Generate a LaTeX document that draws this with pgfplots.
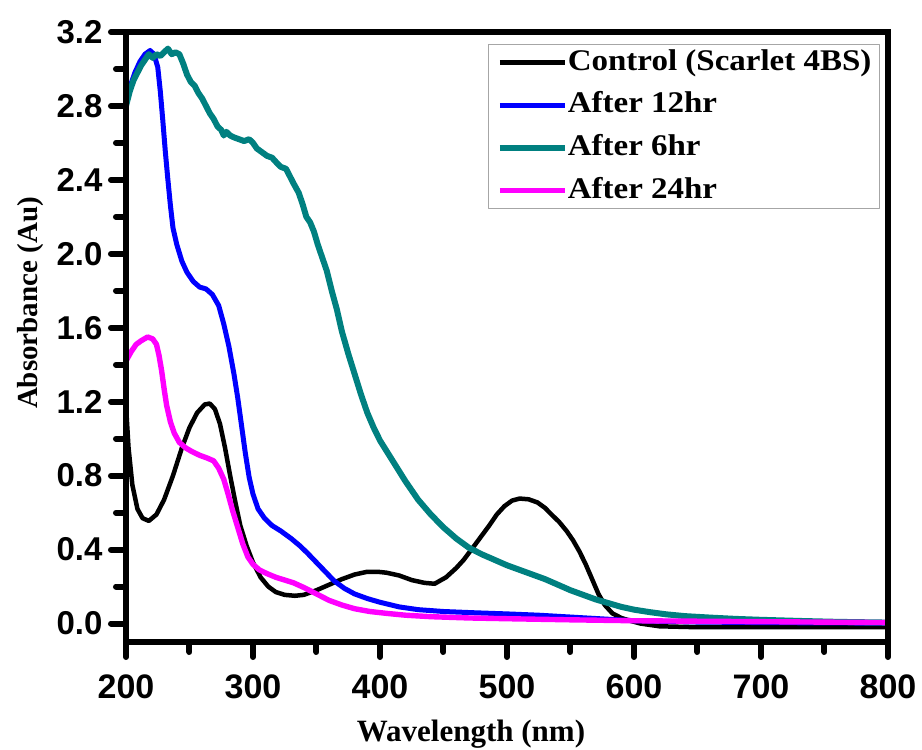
\documentclass[border=0pt]{standalone}
\usepackage{fontspec}
\setmainfont{Liberation Serif}
\newfontfamily\ticksans{Liberation Sans}
\usepackage{pgfplots}
\pgfplotsset{compat=1.18}
\definecolor{cteal}{RGB}{0,128,128}
\definecolor{cblue}{RGB}{0,0,255}
\definecolor{cmag}{RGB}{255,0,255}
\begin{document}
\begin{tikzpicture}
\useasboundingbox (-126pt,-108pt) rectangle (796pt,642pt);
\begin{axis}[
  name=ax,
  at={(0pt,0pt)}, anchor=south west,
  scale only axis, width=762pt, height=610pt,
  xmin=200, xmax=800, ymin=-0.1, ymax=3.2,
  xtick={200,300,...,800},
  ytick={0,0.4,...,3.2},
  minor x tick num=1, minor y tick num=1,
  xtick pos=bottom, ytick pos=left,
  tick align=outside,
  major tick length=15pt, minor tick length=10pt,
  tick style={line width=6pt, line cap=round, black},
  axis line style={line width=6.5pt},
  /pgf/number format/assume math mode=true,
  xticklabel={\ticksans\bfseries\pgfmathprintnumber{\tick}},
  yticklabel={\ticksans\bfseries\pgfmathprintnumber[fixed,fixed zerofill,precision=1]{\tick}},
  xticklabel style={font=\fontsize{34}{40}\selectfont, anchor=north, yshift=-14pt},
  yticklabel style={font=\fontsize{33}{40}\selectfont, anchor=east, xshift=-5pt},
  xlabel={\textbf{Wavelength (nm)}},
  ylabel={\textbf{Absorbance (Au)}},
  xlabel style={font=\fontsize{31}{36}\selectfont, at={(axis description cs:0.4528,-0.1508)}, anchor=center},
  ylabel style={font=\fontsize{29}{34}\selectfont, at={(axis description cs:-0.1247,0.5557)}, anchor=center},
  legend cell align=left,
  legend style={at={(rel axis cs:0.9895,0.9803)}, anchor=north east,
    draw=gray!70, line width=1pt, inner xsep=8pt, inner ysep=3.5pt,
    font=\fontsize{30}{34}\selectfont,
    nodes={inner sep=0pt, text height=22pt, text depth=7pt},
    row sep=13.7pt},
  legend image code/.code={\draw[#1] (0pt,0pt) -- (65pt,0pt);},
  /tikz/every even column/.append style={column sep=8pt},
  line join=round,
]
\addplot[black, line width=4.5pt] coordinates {
(200,1.18) (202,0.95) (205,0.75) (209,0.62) (213,0.57) (218,0.555) (224,0.59) (230,0.67) (237,0.80) (244,0.95) (250,1.06) (256,1.14) (262,1.185) (266,1.19) (270,1.16) (274,1.08) (278,0.95) (282,0.80) (286,0.66) (290,0.53) (295,0.42) (300,0.33) (306,0.25) (312,0.20) (318,0.17) (325,0.155) (333,0.15) (340,0.155) (350,0.18) (360,0.21) (370,0.24) (380,0.265) (390,0.28) (398,0.28) (405,0.275) (415,0.26) (425,0.235) (435,0.22) (443,0.215) (452,0.25) (460,0.30) (466,0.345) (472,0.40) (479,0.465) (486,0.53) (492,0.59) (498,0.635) (504,0.665) (510,0.676) (517,0.672) (524,0.655) (530,0.625) (535,0.59) (541,0.55) (547,0.50) (552,0.45) (557,0.39) (562,0.32) (567,0.24) (572,0.16) (577,0.10) (583,0.055) (590,0.03) (597,0.015) (605,0.0) (620,-0.015) (650,-0.02) (700,-0.02) (750,-0.02) (800,-0.02)
};
\addlegendentry{\scalebox{1.1}[1]{\textbf{Control (Scarlet 4BS)}}}
\addplot[cblue, line width=5pt] coordinates {
(200,2.80) (203,2.90) (207,2.98) (211,3.04) (215,3.08) (219,3.10) (222,3.08) (225,3.01) (227,2.88) (229,2.72) (231,2.55) (233,2.40) (235,2.26) (237,2.14) (240,2.05) (244,1.96) (248,1.90) (253,1.85) (258,1.82) (263,1.81) (268,1.78) (273,1.72) (277,1.62) (281,1.50) (285,1.35) (288,1.22) (291,1.07) (294,0.92) (297,0.79) (300,0.70) (304,0.62) (309,0.57) (315,0.53) (322,0.50) (330,0.46) (337,0.42) (343,0.38) (350,0.33) (357,0.28) (364,0.23) (372,0.19) (380,0.16) (390,0.135) (400,0.115) (415,0.09) (430,0.075) (450,0.065) (475,0.058) (500,0.052) (525,0.045) (550,0.035) (575,0.025) (600,0.015) (650,0.008) (700,0.005) (800,0.002)
};
\addlegendentry{\scalebox{1.1}[1]{\textbf{After 12hr}}}
\addplot[cteal, line width=6pt] coordinates {
(200,2.80) (203,2.88) (206,2.94) (209,2.98) (212,3.02) (215,3.05) (218,3.08) (221,3.06) (224,3.08) (227,3.07) (230,3.09) (233,3.11) (236,3.08) (239,3.09) (242,3.08) (245,3.03) (248,2.97) (251,2.93) (254,2.91) (257,2.87) (260,2.84) (263,2.80) (266,2.76) (269,2.73) (272,2.69) (275,2.67) (277,2.64) (279,2.66) (282,2.64) (285,2.63) (289,2.62) (293,2.61) (297,2.62) (300,2.60) (303,2.57) (307,2.55) (311,2.53) (315,2.52) (319,2.49) (322,2.47) (326,2.46) (329,2.42) (332,2.38) (336,2.33) (339,2.27) (342,2.20) (345,2.17) (348,2.12) (351,2.05) (354,1.99) (358,1.91) (362,1.80) (366,1.70) (370,1.58) (375,1.46) (380,1.35) (385,1.24) (390,1.14) (395,1.06) (400,0.99) (410,0.88) (420,0.77) (430,0.67) (440,0.59) (450,0.52) (460,0.46) (470,0.41) (480,0.375) (490,0.345) (500,0.315) (510,0.29) (520,0.265) (530,0.24) (540,0.21) (550,0.18) (560,0.155) (570,0.13) (580,0.11) (590,0.09) (600,0.075) (612,0.062) (625,0.05) (640,0.04) (660,0.032) (680,0.025) (700,0.02) (730,0.014) (760,0.009) (800,0.005)
};
\addlegendentry{\scalebox{1.1}[1]{\textbf{After 6hr}}}
\addplot[cmag, line width=5.4pt] coordinates {
(200,1.42) (204,1.47) (208,1.51) (212,1.53) (217,1.55) (221,1.54) (224,1.51) (226,1.45) (228,1.37) (230,1.27) (232,1.18) (235,1.09) (238,1.03) (242,0.98) (247,0.95) (252,0.93) (258,0.91) (264,0.895) (269,0.88) (273,0.84) (277,0.78) (280,0.71) (284,0.61) (288,0.52) (292,0.43) (296,0.36) (300,0.32) (305,0.29) (311,0.27) (318,0.25) (325,0.235) (332,0.22) (340,0.195) (350,0.16) (360,0.125) (370,0.10) (380,0.08) (392,0.065) (405,0.055) (420,0.045) (440,0.037) (470,0.03) (500,0.026) (550,0.02) (600,0.015) (700,0.01) (800,0.005)
};
\addlegendentry{\scalebox{1.1}[1]{\textbf{After 24hr}}}
\end{axis}
\draw[line width=6.5pt, black, line join=miter] (ax.south west) rectangle (ax.north east);
\end{tikzpicture}
\end{document}
